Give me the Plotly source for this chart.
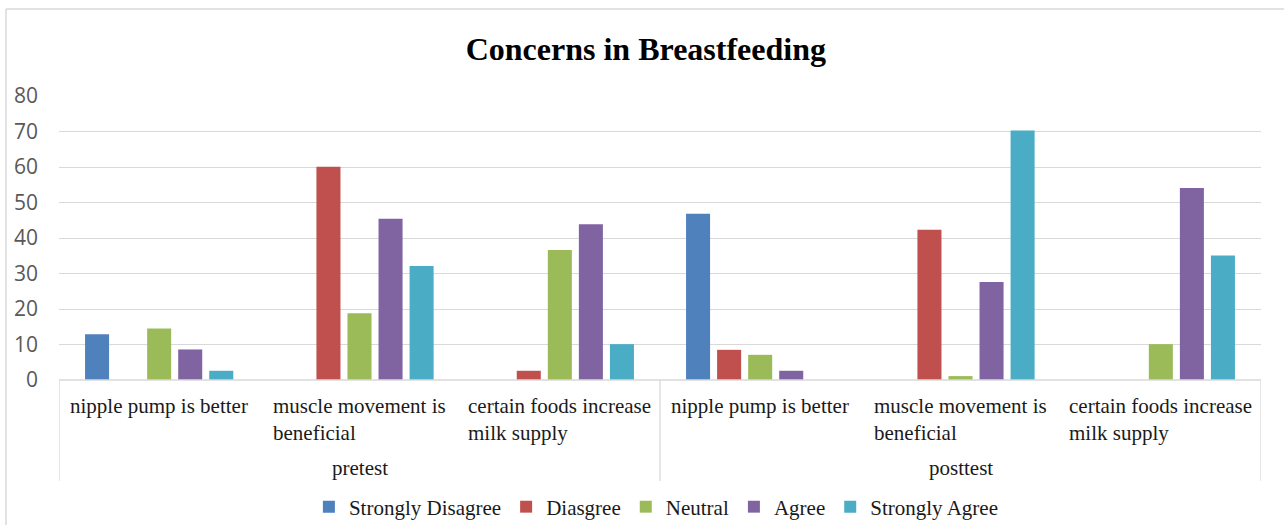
import plotly.graph_objects as go

# ---- data ----
groups = ["pretest", "posttest"]
items = ["nipple pump is better", "muscle movement is<br>beneficial", "certain foods increase<br>milk supply"]
series_names = ["Strongly Disagree", "Diasgree", "Neutral", "Agree", "Strongly Agree"]
strongly_disagree = [12.9, 0, 0, 46.8, 0, 0]
disagree = [0, 60.1, 2.6, 8.5, 42.3, 0]
neutral = [14.5, 18.8, 36.6, 7.1, 1.1, 10.1]
agree = [8.6, 45.4, 43.9, 2.6, 27.6, 54.1]
strongly_agree = [2.6, 32.1, 10.1, 0, 70.3, 35.1]
y_ticks = [0, 10, 20, 30, 40, 50, 60, 70, 80]

colors = ["#4F81BD", "#C0504D", "#9BBB59", "#8064A2", "#4BACC6"]
series = [strongly_disagree, disagree, neutral, agree, strongly_agree]

W, H = 1284, 525
L, R, T, B = 59, 1261, 96, 380  # plot area in px


def px_x(x):
    return (x - L) / (R - L)


def px_y(y):
    return (B - y) / (B - T)


cats = [(g, it) for g in groups for it in items]
xpos = list(range(len(cats)))

fig = go.Figure()
for name, vals, col in zip(series_names, series, colors):
    fig.add_trace(go.Bar(
        x=xpos, y=vals, name=name,
        marker=dict(color=col, line=dict(width=0)),
    ))

grid = "#D9D9D9"
serif = "Liberation Serif, Times New Roman, serif"

annotations = []
# category labels
for i, (g, it) in enumerate(cats):
    annotations.append(dict(
        x=i, xref="x", y=px_y(392), yref="paper",
        text=it, showarrow=False, xanchor="center", yanchor="top", align="left",
        font=dict(family=serif, size=21, color="#1a1a1a"),
    ))
# group labels
n = len(items)
for gi, g in enumerate(groups):
    annotations.append(dict(
        x=gi * n + (n - 1) / 2, xref="x", y=px_y(468), yref="paper",
        text=g, showarrow=False, xanchor="center", yanchor="middle",
        font=dict(family=serif, size=21, color="#1a1a1a"),
    ))

shapes = []
# axis line at zero
shapes.append(dict(type="line", xref="x", yref="paper", x0=-0.5, x1=len(cats) - 0.5,
                   y0=0, y1=0, line=dict(color=grid, width=1.3)))
# dividers
for xv in [-0.5, n - 0.5, len(cats) - 0.5]:
    shapes.append(dict(type="line", xref="x", yref="paper", x0=xv, x1=xv,
                       y0=px_y(380), y1=px_y(481), line=dict(color=grid, width=1.3)))
# chart border (top and left)
shapes.append(dict(type="line", xref="paper", yref="paper", x0=px_x(6), x1=px_x(1290),
                   y0=px_y(9), y1=px_y(9), line=dict(color=grid, width=1.5)))
shapes.append(dict(type="line", xref="paper", yref="paper", x0=px_x(6), x1=px_x(6),
                   y0=px_y(9), y1=px_y(530), line=dict(color=grid, width=1.5)))

fig.update_layout(
    width=W, height=H,
    margin=dict(l=L, r=W - R, t=T, b=H - B),
    paper_bgcolor="white", plot_bgcolor="white",
    barmode="group", bargap=0.225, bargroupgap=0.226,
    title=dict(text="<b>Concerns in Breastfeeding</b>", x=0.503, xanchor="center",
               y=1 - 49 / H, yanchor="middle", yref="container",
               font=dict(family=serif, size=32, color="black")),
    xaxis=dict(range=[-0.5, len(cats) - 0.5], showticklabels=False, showgrid=False,
               zeroline=False, showline=False, ticks=""),
    yaxis=dict(range=[0, 80], tickvals=y_ticks, showgrid=True, gridcolor=grid, gridwidth=1.3,
               zeroline=False, showline=False, ticks="", ticklabelstandoff=20,
               tickfont=dict(family="Open Sans, sans-serif", size=21, color="#595959")),
    legend=dict(orientation="h", x=0.497, xanchor="center", yref="container",
                y=1 - 507 / H, yanchor="middle",
                font=dict(family=serif, size=21, color="#1a1a1a"), itemwidth=30,
                tracegroupgap=0, traceorder="normal", bgcolor="rgba(0,0,0,0)"),
    annotations=annotations,
    shapes=shapes,
    showlegend=True,
)

fig.write_html("out.html")
